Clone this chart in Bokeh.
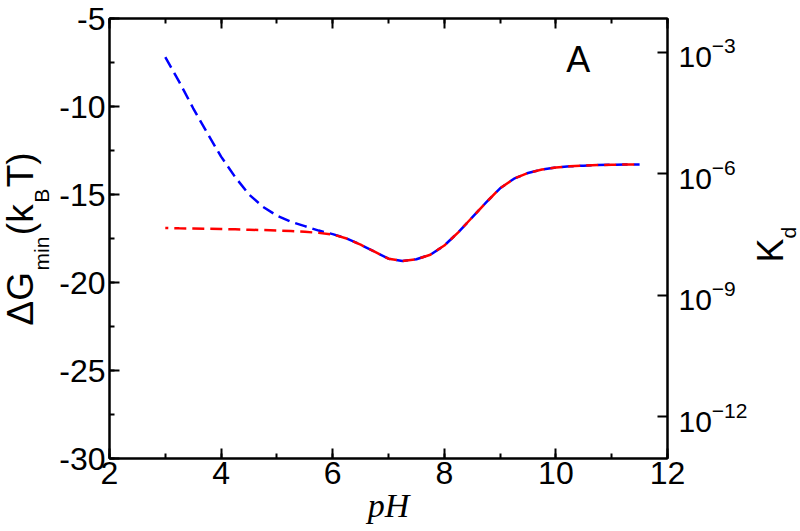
import math
from bokeh.plotting import figure
from bokeh.layouts import row
from bokeh.models import (Range1d, LogAxis, LinearAxis, FixedTicker, Label,
                          LogScale, SingleIntervalTicker, ColumnDataSource,
                          CustomJSTickFormatter)
from bokeh.core.properties import value
from bokeh.embed import file_html
from bokeh.resources import INLINE

# ---- data ----
ph = [3.0, 3.25, 3.5, 3.75, 4.0, 4.25, 4.5, 4.75, 5.0, 5.25, 5.5, 5.75,
      6.0, 6.25, 6.5, 6.75, 7.0, 7.25, 7.5, 7.75, 8.0, 8.25, 8.5, 8.75,
      9.0, 9.25, 9.5, 9.75, 10.0, 10.25, 10.5, 10.75, 11.0, 11.25, 11.5]
dg_blue = [-7.2, -8.6, -10.1, -11.5, -12.85, -14.0, -15.0, -15.7, -16.2, -16.55, -16.8, -17.05,
           -17.25, -17.5, -17.85, -18.25, -18.65, -18.78, -18.68, -18.42, -17.9, -17.15, -16.3, -15.45,
           -14.65, -14.1, -13.78, -13.58, -13.47, -13.4, -13.36, -13.33, -13.31, -13.3, -13.29]
dg_red = [-16.9, -16.92, -16.93, -16.95, -16.96, -16.98, -17.0, -17.02, -17.05, -17.08, -17.12, -17.18,
          -17.27, -17.5, -17.85, -18.25, -18.65, -18.78, -18.68, -18.42, -17.9, -17.15, -16.3, -15.45,
          -14.65, -14.1, -13.78, -13.58, -13.47, -13.4, -13.36, -13.33, -13.31, -13.3, -13.29]
x_limits = (2, 12)
y_limits = (-30, -5)
kd_ticks = [1e-3, 1e-6, 1e-9, 1e-12]

FONT = "Liberation Sans"
H = 531
LEFT_W, MAIN_W, RIGHT_W = 56, 694, 50
TOP_B, BOT_B = 18, 73

p = figure(width=MAIN_W, height=H, x_range=Range1d(*x_limits), y_range=Range1d(*y_limits),
           output_backend="svg", toolbar_location=None,
           min_border_left=51, min_border_right=82, min_border_top=TOP_B, min_border_bottom=BOT_B)
p.grid.visible = False
p.outline_line_color = "black"
p.outline_line_width = 2
p.background_fill_color = "white"
p.border_fill_color = "white"

def style_axis(ax, fs="32px"):
    ax.axis_line_width = 2
    ax.axis_line_color = "black"
    ax.major_tick_in = 10
    ax.major_tick_out = 0
    ax.minor_tick_in = 5
    ax.minor_tick_out = 0
    ax.major_tick_line_width = 2
    ax.minor_tick_line_width = 2
    ax.major_label_text_font = FONT
    ax.major_label_text_font_size = fs
    ax.major_label_text_color = "black"

plain = CustomJSTickFormatter(code="return tick.toFixed(0);")
p.xaxis.ticker = SingleIntervalTicker(interval=2, num_minor_ticks=2)
p.yaxis.ticker = SingleIntervalTicker(interval=5, num_minor_ticks=2)
p.xaxis.formatter = plain
p.yaxis.formatter = plain
style_axis(p.xaxis[0])
style_axis(p.yaxis[0])
p.xaxis.major_label_standoff = 3
p.yaxis.major_label_standoff = 4
p.xaxis.axis_label = "pH"
p.xaxis.axis_label_text_font = "Liberation Serif"
p.xaxis.axis_label_text_font_style = "italic"
p.xaxis.axis_label_text_font_size = "34px"
p.xaxis.axis_label_text_color = "black"
p.xaxis.axis_label_standoff = 0

top = LinearAxis(ticker=SingleIntervalTicker(interval=2, num_minor_ticks=2),
                 formatter=CustomJSTickFormatter(code="return '';"))
style_axis(top)
top.major_label_standoff = 0
p.add_layout(top, "above")

# right Kd axis (log scale, Kd = exp(dG))
p.extra_y_ranges = {"kd": Range1d(math.exp(y_limits[0]), math.exp(y_limits[1]))}
p.extra_y_scales = {"kd": LogScale()}
rax = LogAxis(y_range_name="kd", ticker=FixedTicker(ticks=kd_ticks))
style_axis(rax, "30px")
rax.minor_tick_in = 0
rax.major_label_standoff = 11
p.add_layout(rax, "right")

src = ColumnDataSource(dict(ph=ph, blue=dg_blue, red=dg_red))
p.line("ph", "blue", source=src, line_color="#0000ff", line_width=2.5, line_dash="12 6")
p.line("ph", "red", source=src, line_color="#ff0000", line_width=2.5, line_dash="12 6",
       line_dash_offset=9)

# panel label
p.add_layout(Label(x=10.4, y=-7.33, text="A", text_font=FONT, text_font_size="36px",
                   text_color="black", text_align="center", text_baseline="middle"))


def side_fig(w):
    # side strip whose data coordinates equal page pixels (y downwards)
    f = figure(width=w, height=H, x_range=Range1d(0, w), y_range=Range1d(H - BOT_B, TOP_B),
               x_axis_type=None, y_axis_type=None, output_backend="svg",
               toolbar_location=None, min_border_left=0, min_border_right=0,
               min_border_top=TOP_B, min_border_bottom=BOT_B)
    f.outline_line_color = None
    f.background_fill_color = "white"
    f.border_fill_color = "white"
    return f


def rotated_pieces(f, texts, sizes, subs, base_x, sub_x, start_y, adv, gap):
    """Vertical (bottom-to-top) text made of pieces; each piece centred."""
    xs, ys, fs = [], [], []
    y = start_y
    for t, s, sb, a in zip(texts, sizes, subs, adv):
        length = a * s
        xs.append(sub_x if sb else base_x)
        ys.append(y - length / 2)
        fs.append(f"{s}px")
        y -= length + gap
    cds = ColumnDataSource(dict(x=xs, y=ys, text=texts, fs=fs))
    f.text(x="x", y="y", text="text", source=cds, angle=math.pi / 2,
           text_font=value(FONT), text_font_size="fs", text_color="black",
           text_align="center", text_baseline="middle")


# left axis title  ΔG_min(k_B T)
fl = side_fig(LEFT_W)
rotated_pieces(fl, ["ΔG", "min", "(k", "B", "T)"], [37, 21, 37, 21, 37], [0, 1, 0, 1, 0],
               20, 40.5, 325, [1.446, 1.611, 0.833, 0.667, 0.944], 1.5)

# right axis title K_d
fr = side_fig(RIGHT_W)
rotated_pieces(fr, ["K", "d"], [36, 21], [0, 1], 20, 38, 262, [0.667, 0.556], 0)

layout = row(fl, p, fr, spacing=0)
open("out.html", "w").write(file_html(layout, INLINE))
